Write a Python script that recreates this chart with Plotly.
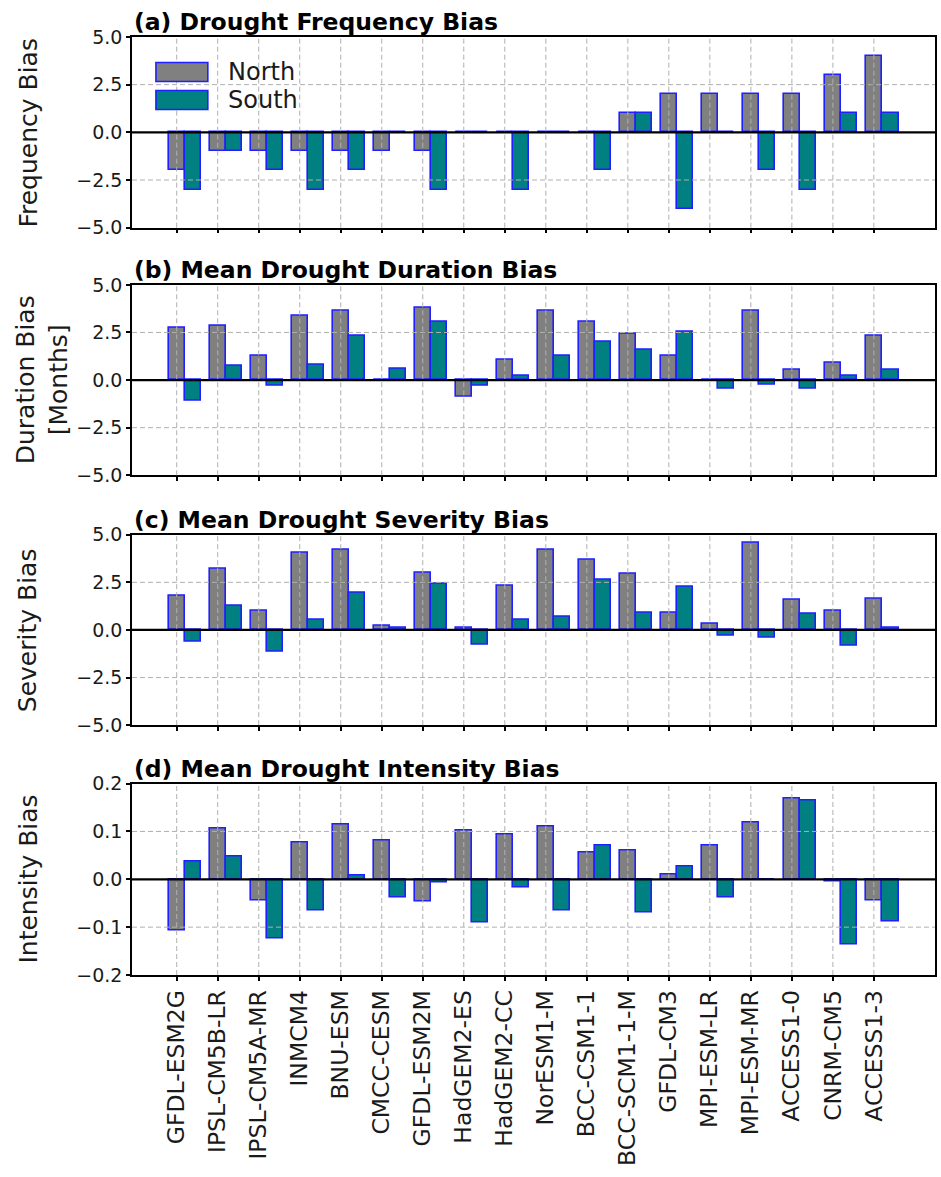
import plotly.graph_objects as go

# ---------------- data ----------------
models = ["GFDL-ESM2G", "IPSL-CM5B-LR", "IPSL-CM5A-MR", "INMCM4", "BNU-ESM",
          "CMCC-CESM", "GFDL-ESM2M", "HadGEM2-ES", "HadGEM2-CC", "NorESM1-M",
          "BCC-CSM1-1", "BCC-SCM1-1-M", "GFDL-CM3", "MPI-ESM-LR", "MPI-ESM-MR",
          "ACCESS1-0", "CNRM-CM5", "ACCESS1-3"]

freq_north = [-2, -1, -1, -1, -1, -1, -1, 0, 0, 0, 0, 1, 2, 2, 2, 2, 3, 4]
freq_south = [-3, -1, -2, -3, -2, 0, -3, 0, -3, 0, -2, 1, -4, 0, -2, -3, 1, 1]

dur_north = [2.74, 2.83, 1.26, 3.35, 3.61, 0.0, 3.79, -0.87, 1.05, 3.61,
             3.05, 2.44, 1.26, 0.0, 3.61, 0.52, 0.91, 2.30]
dur_south = [-1.10, 0.73, -0.31, 0.82, 2.30, 0.61, 3.05, -0.31, 0.21, 1.26,
             1.99, 1.57, 2.53, -0.45, -0.23, -0.45, 0.20, 0.52]

sev_north = [1.78, 3.24, 1.03, 4.07, 4.19, 0.21, 3.03, 0.10, 2.31, 4.19,
             3.67, 2.95, 0.91, 0.31, 4.59, 1.57, 1.03, 1.66]
sev_south = [-0.64, 1.26, -1.16, 0.53, 1.98, 0.12, 2.41, -0.76, 0.53, 0.71,
             2.64, 0.91, 2.29, -0.33, -0.43, 0.83, -0.84, 0.10]

int_north = [-0.107, 0.106, -0.044, 0.076, 0.115, 0.080, -0.047, 0.101, 0.093, 0.110,
             0.055, 0.059, 0.009, 0.071, 0.118, 0.168, -0.005, -0.044]
int_south = [0.038, 0.047, -0.124, -0.065, 0.008, -0.039, -0.006, -0.090, -0.018, -0.065,
             0.071, -0.070, 0.026, -0.039, 0.0, 0.165, -0.136, -0.089]

series_names = ["North", "South"]
series_colors = ["#808080", "#008080"]
edge_color = "#1f1fff"

panel_titles = ["(a) Drought Frequency Bias", "(b) Mean Drought Duration Bias",
                "(c) Mean Drought Severity Bias", "(d) Mean Drought Intensity Bias"]
y_titles = ["Frequency Bias", "Duration Bias<br>[Months]", "Severity Bias", "Intensity Bias"]

big_ticks = [-5.0, -2.5, 0.0, 2.5, 5.0]
big_ticklabels = ["\u22125.0", "\u22122.5", "0.0", "2.5", "5.0"]
small_ticks = [-0.2, -0.1, 0.0, 0.1, 0.2]
small_ticklabels = ["\u22120.2", "\u22120.1", "0.0", "0.1", "0.2"]

panels = [
    (freq_north, freq_south, big_ticks, big_ticklabels),
    (dur_north, dur_south, big_ticks, big_ticklabels),
    (sev_north, sev_south, big_ticks, big_ticklabels),
    (int_north, int_south, small_ticks, small_ticklabels),
]

# ---------------- layout geometry (pixels) ----------------
W, H = 941, 1177
L, R = 132, 937
tops = [36.5, 284.5, 534.5, 783.5]
bots = [227.3, 475.0, 725.0, 975.0]
T, B = tops[0], bots[-1]
plot_h = B - T
plot_w = R - L

bar_w = 0.4
x_idx = list(range(len(models)))
x_range = [-0.2 - 0.89, len(models) - 1 + 0.6 + 0.89]

FONT = "DejaVu Sans, Verdana, sans-serif"
TXT = "#1a1a1a"

fig = go.Figure()
shapes = []
annotations = []

for k, (north, south, tv, tt) in enumerate(panels):
    n = k + 1
    xa = "x" if n == 1 else f"x{n}"
    ya = "y" if n == 1 else f"y{n}"
    for s, (vals, off) in enumerate([(north, -bar_w / 2), (south, bar_w / 2)]):
        fig.add_trace(go.Bar(
            x=x_idx, y=vals, width=bar_w, offset=off,
            marker=dict(color=series_colors[s], line=dict(color=edge_color, width=1.6)),
            name=series_names[s], showlegend=False,
            xaxis=xa, yaxis=ya,
        ))
    d0 = (B - bots[k]) / plot_h
    d1 = (B - tops[k]) / plot_h
    lim = tv[-1]
    fig.layout[f"xaxis{'' if n == 1 else n}"] = dict(
        domain=[0, 1], anchor=ya, range=x_range,
        tickmode="array", tickvals=x_idx, ticktext=models,
        showticklabels=(n == 4), tickangle=-90,
        tickfont=dict(family=FONT, size=23.5, color=TXT),
        ticks="outside", ticklen=4, tickwidth=1.5, tickcolor="black",
        showline=True, linecolor="black", linewidth=1.5, mirror=True,
        showgrid=False, zeroline=False,
        matches=None if n == 1 else "x",
    )
    fig.layout[f"yaxis{'' if n == 1 else n}"] = dict(
        domain=[d0, d1], anchor=xa, range=[-lim, lim],
        tickmode="array", tickvals=tv, ticktext=tt,
        tickfont=dict(family=FONT, size=19, color=TXT),
        ticks="outside", ticklen=4, tickwidth=1.5, tickcolor="black",
        showline=True, linecolor="black", linewidth=1.5, mirror=True,
        showgrid=False, zeroline=False,
    )
    # grid lines above the bars (matplotlib default ordering)
    for i in x_idx:
        shapes.append(dict(type="line", layer="above", xref=xa, x0=i, x1=i,
                           yref=f"{ya} domain", y0=0, y1=1,
                           line=dict(color="#b0b0b0", width=1, dash="5px,3px")))
    for v in tv[1:-1]:
        if v == 0:
            continue
        shapes.append(dict(type="line", layer="above", xref=f"{xa} domain", x0=0, x1=1,
                           yref=ya, y0=v, y1=v,
                           line=dict(color="#b0b0b0", width=1, dash="5px,3px")))
    shapes.append(dict(type="line", layer="above", xref=f"{xa} domain", x0=0, x1=1,
                       yref=ya, y0=0, y1=0, line=dict(color="black", width=2.2)))
    # panel title
    annotations.append(dict(text=f"<b>{panel_titles[k]}</b>", xref=f"{xa} domain", x=0,
                            yref=f"{ya} domain", y=1, xanchor="left", yanchor="bottom",
                            yshift=-1, showarrow=False,
                            font=dict(family=FONT, size=23.5, color="black")))
    # y-axis title
    cx = 28 if "<br>" not in y_titles[k] else 42
    annotations.append(dict(text=y_titles[k], xref="paper", x=(cx - L) / plot_w,
                            yref=f"{ya} domain", y=0.5, xanchor="center", yanchor="middle",
                            textangle=-90, showarrow=False,
                            font=dict(family=FONT, size=25, color=TXT)))

# legend drawn inside panel (a), upper left, without frame
ph = bots[0] - tops[0]
leg_rows = [(62, 81), (90, 109)]
for s, (r0, r1) in enumerate(leg_rows):
    shapes.append(dict(type="rect", layer="above", xref="x domain", yref="y domain",
                       x0=(156 - L) / plot_w, x1=(208 - L) / plot_w,
                       y0=(bots[0] - r1) / ph, y1=(bots[0] - r0) / ph,
                       fillcolor=series_colors[s], line=dict(color=edge_color, width=1.6)))
    annotations.append(dict(text=series_names[s], xref="x domain", yref="y domain",
                            x=(226 - L) / plot_w, y=(bots[0] - (r0 + r1) / 2) / ph,
                            xanchor="left", yanchor="middle", showarrow=False,
                            font=dict(family=FONT, size=24, color=TXT)))

fig.update_layout(
    width=W, height=H,
    margin=dict(l=L, r=W - R, t=T, b=H - B),
    paper_bgcolor="white", plot_bgcolor="white",
    barmode="overlay", bargap=0,
    showlegend=False,
    shapes=shapes, annotations=annotations,
    font=dict(family=FONT, color=TXT),
)

fig.write_html("out.html")
